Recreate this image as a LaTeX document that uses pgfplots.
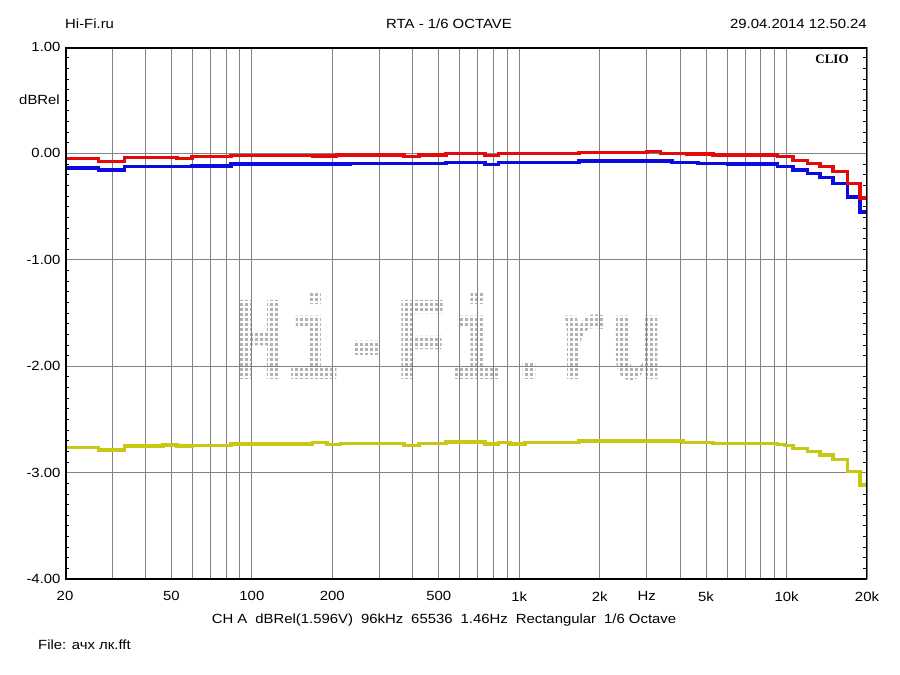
\documentclass[border=0pt]{standalone}
\usepackage{fontspec}
\setmainfont{Liberation Sans}[FakeStretch=1.12]
\newfontfamily\clioserif{Liberation Serif}
\newfontfamily\wmfont{Liberation Mono}
\usepackage{graphicx}
\usepackage{pgfplots}
\usepackage{pgfplotstable}
\pgfplotsset{compat=1.18}
\definecolor{cred}{RGB}{228,10,10}
\definecolor{cblue}{RGB}{10,10,225}
\definecolor{cyel}{RGB}{200,200,20}
\definecolor{cgrid}{RGB}{130,130,130}

\pgfplotstableread{
f v
20 -0.05
26.6 -0.078
33.3 -0.04
52.5 -0.046
59.7 -0.03
83.6 -0.018
169 -0.025
208 -0.015
371 -0.03
422 -0.015
532 0.0
745 -0.018
834 -0.003
1675 0.01
3008 0.018
3366 0.0
4246 -0.006
5312 -0.015
9220 -0.03
10580 -0.068
11940 -0.093
13350 -0.125
14930 -0.17
16850 -0.28
18840 -0.42
20000 -0.42
}\redtab

\pgfplotstableread{
f v
20 -0.137
26.6 -0.156
33.3 -0.125
59.7 -0.118
83.6 -0.10
233 -0.095
532 -0.084
745 -0.106
834 -0.087
1675 -0.071
3732 -0.087
4668 -0.093
5994 -0.10
9220 -0.125
10580 -0.156
11940 -0.19
13350 -0.225
14930 -0.28
16850 -0.41
18840 -0.55
20000 -0.55
}\bluetab

\pgfplotstableread{
f v
20 -2.766
26.6 -2.788
33.3 -2.75
46.5 -2.74
52.5 -2.75
59.7 -2.743
83.6 -2.731
169 -2.72
191 -2.734
214 -2.725
371 -2.747
422 -2.725
532 -2.712
745 -2.731
834 -2.719
924 -2.731
1052 -2.719
1675 -2.703
4102 -2.715
5312 -2.728
9220 -2.737
9800 -2.747
10580 -2.772
11940 -2.804
13350 -2.835
14930 -2.88
16850 -2.99
18840 -3.117
20000 -3.117
}\yeltab

\begin{document}
\begin{tikzpicture}
\path[use as bounding box] (-65bp,-96bp) rectangle (835bp,579bp);
\node[text=black!30, inner sep=0pt] at (384bp,242bp) {\resizebox{432bp}{87bp}{\wmfont\bfseries Hi-Fi.ru}};
\foreach \i in {0,...,90} {\draw[white, line width=1.4bp] (164bp+\i*5bp,192bp) -- ++(0,100bp);}
\foreach \j in {0,...,20} {\draw[white, line width=1.4bp] (160bp,192bp+\j*5bp) -- ++(450bp,0);}
\begin{axis}[
  scale only axis, width=802bp, height=532bp,
  xmode=log, xmin=20, xmax=20000, ymin=-4, ymax=1,
  axis line style={draw=none},
  xtick={20,50,100,200,500,1000,2000,3000,5000,10000,20000},
  xticklabels={20,50,100,200,500,1k,2k,Hz,5k,10k,20k},
  minor xtick={30,40,60,70,80,90,300,400,600,700,800,900,3000,4000,6000,7000,8000,9000},
  xmajorgrids, xminorgrids,
  major x tick style={draw=none}, minor x tick style={draw=none},
  ytick={-4,-3,-2,-1,0,1},
  minor ytick={-3.9,-3.8,-3.7,-3.6,-3.5,-3.4,-3.3,-3.2,-3.1,-2.9,-2.8,-2.7,-2.6,-2.5,-2.4,-2.3,-2.2,-2.1,-1.9,-1.8,-1.7,-1.6,-1.5,-1.4,-1.3,-1.2,-1.1,-0.9,-0.8,-0.7,-0.6,-0.5,-0.4,-0.3,-0.2,-0.1,0.1,0.2,0.3,0.4,0.5,0.6,0.7,0.8,0.9},
  ymajorgrids,
  tick align=inside, ytick pos=both,
  minor tick length=4bp, major tick length=4bp,
  major grid style={cgrid, line width=0.8bp},
  minor grid style={cgrid, line width=0.8bp},
  minor y tick style={black, line width=0.7bp},
  major y tick style={draw=none},
  tick label style={font=\fontsize{13.3bp}{15bp}\selectfont},
  y tick label style={xshift=-1bp, /pgf/number format/fixed, /pgf/number format/fixed zerofill, /pgf/number format/precision=2, /pgf/number format/assume math mode=true},
  x tick label style={yshift=-9bp},
  log ticks with fixed point,
  clip=true,
]
\addplot[const plot, cyel, line width=3.2bp] table[x=f,y=v] {\yeltab};
\addplot[const plot, cblue, line width=3.2bp] table[x=f,y=v] {\bluetab};
\addplot[const plot, cred, line width=3.2bp] table[x=f,y=v] {\redtab};
\draw[black, line width=3bp] (rel axis cs:0,0) rectangle (rel axis cs:1,1);
\end{axis}
\begin{scope}[every node/.style={font=\fontsize{13.3bp}{15bp}\selectfont, inner sep=0pt}]
\node[anchor=west] at (0bp,555bp) {Hi-Fi.ru};
\node at (384bp,555bp) {RTA - 1/6 OCTAVE};
\node[anchor=east] at (802bp,555bp) {29.04.2014 12.50.24};
\node[anchor=east] at (-5bp,479bp) {dBRel};
\node at (379bp,-41bp) {CH A\hspace{8bp}dBRel(1.596V)\hspace{8bp}96kHz\hspace{8bp}65536\hspace{8bp}1.46Hz\hspace{8bp}Rectangular\hspace{8bp}1/6 Octave};
\node[anchor=west] at (-27bp,-66bp) {File: ачх лк.fft};
\node[font=\clioserif\bfseries\fontsize{13bp}{15bp}\selectfont] at (767bp,520bp) {CLIO};
\end{scope}
\end{tikzpicture}
\end{document}
